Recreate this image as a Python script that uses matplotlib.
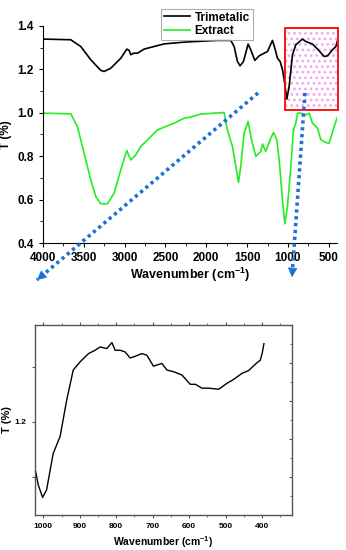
import numpy as np
import matplotlib
matplotlib.use('Agg')
import matplotlib.pyplot as plt
from matplotlib.patches import Rectangle
from matplotlib.ticker import MultipleLocator

plt.rcParams['font.family'] = ['Liberation Sans', 'DejaVu Sans']
plt.rcParams['font.weight'] = 'bold'
plt.rcParams['hatch.linewidth'] = 1.2
plt.rcParams['mathtext.fontset'] = 'custom'
plt.rcParams['mathtext.rm'] = 'Liberation Sans:bold'
plt.rcParams['mathtext.it'] = 'Liberation Sans:bold'
plt.rcParams['mathtext.bf'] = 'Liberation Sans:bold'
plt.rcParams['mathtext.default'] = 'bf'

# --- top panel: full FTIR spectra ---
tri_wn = [3986, 3659, 3537, 3414, 3292, 3251, 3169, 3047, 2973, 2945, 2924, 2892,
          2843, 2761, 2639, 2516, 2271, 1863, 1700, 1659, 1619, 1586, 1545, 1488,
          1456, 1406, 1353, 1251, 1190, 1161, 1129, 1096, 1067, 1047, 1014, 986,
          945, 904, 843, 822, 781, 700, 638, 557, 516, 455, 414, 393]
tri_t = [1.339, 1.336, 1.305, 1.244, 1.195, 1.190, 1.205, 1.251, 1.293, 1.287, 1.267, 1.274,
         1.274, 1.293, 1.305, 1.317, 1.325, 1.333, 1.333, 1.305, 1.236, 1.216, 1.236, 1.316,
         1.290, 1.241, 1.262, 1.282, 1.333, 1.297, 1.251, 1.236, 1.198, 1.152, 1.063, 1.121,
         1.267, 1.313, 1.333, 1.339, 1.328, 1.316, 1.293, 1.259, 1.262, 1.290, 1.305, 1.333]

ext_wn = [3986, 3659, 3578, 3496, 3414, 3353, 3292, 3210, 3128, 3047, 2973, 2924,
          2863, 2802, 2720, 2598, 2394, 2271, 2190, 2067, 1782, 1741, 1680, 1639,
          1606, 1578, 1537, 1488, 1447, 1394, 1333, 1312, 1272, 1218, 1178, 1137,
          1108, 1067, 1039, 1006, 965, 933, 904, 884, 843, 781, 741, 700, 638,
          598, 537, 496, 434, 393]
ext_t = [0.998, 0.995, 0.937, 0.814, 0.691, 0.615, 0.581, 0.581, 0.630, 0.737, 0.826, 0.783,
         0.806, 0.845, 0.875, 0.921, 0.952, 0.975, 0.980, 0.994, 1.001, 0.921, 0.845, 0.753,
         0.679, 0.753, 0.906, 0.960, 0.876, 0.799, 0.822, 0.856, 0.822, 0.876, 0.909, 0.876,
         0.783, 0.599, 0.489, 0.569, 0.753, 0.921, 0.952, 0.998, 0.998, 0.990, 0.998, 0.952, 0.929,
         0.876, 0.863, 0.860, 0.937, 0.983]

# --- bottom panel: zoom of trimetalic 1040-400 ---
zoom_wn = [1021, 1014, 1002, 991, 973, 954, 936, 918, 899, 876, 858, 844, 826, 812,
           803, 789, 776, 762, 748, 730, 716, 698, 675, 661, 643, 620, 597, 583,
           565, 547, 519, 496, 478, 455, 437, 418, 405, 400, 395]
zoom_t = [1.109, 1.085, 1.062, 1.076, 1.142, 1.173, 1.239, 1.294, 1.309, 1.324, 1.330, 1.336,
          1.333, 1.344, 1.330, 1.330, 1.327, 1.316, 1.319, 1.324, 1.321, 1.301, 1.306, 1.294,
          1.291, 1.285, 1.268, 1.268, 1.261, 1.261, 1.259, 1.270, 1.277, 1.288, 1.293, 1.305,
          1.312, 1.324, 1.342]

blue = '#1f6fd6'
green = '#22ee22'

fig = plt.figure(figsize=(3.46, 5.5), dpi=100)

ax = fig.add_axes([0.124, 0.558, 0.850, 0.395])
ax.plot(tri_wn, tri_t, color='black', lw=1.2, label='Trimetalic')
ax.plot(ext_wn, ext_t, color=green, lw=1.2, label='Extract')
ax.set_xlim(4000, 400)
ax.set_ylim(0.4, 1.4)
ax.xaxis.set_major_locator(MultipleLocator(500))
ax.xaxis.set_minor_locator(MultipleLocator(250))
ax.yaxis.set_major_locator(MultipleLocator(0.2))
ax.yaxis.set_minor_locator(MultipleLocator(0.1))
ax.spines['top'].set_visible(False)
ax.spines['right'].set_visible(False)
ax.tick_params(which='both', direction='out', labelsize=8.5, length=3)
ax.tick_params(which='minor', length=2)
ax.set_xlabel('Wavenumber (cm$^{-1}$)', fontsize=9, fontweight='bold', labelpad=1)
ax.set_ylabel('T (%)', fontsize=8.5, fontweight='bold', labelpad=4)
for lab in ax.get_xticklabels() + ax.get_yticklabels():
    lab.set_fontweight('bold')

# highlighted region
ax.add_patch(Rectangle((390, 1.013), 650, 0.377, facecolor='none',
                       edgecolor='#f4a6ee', lw=0, hatch='...', zorder=1))
ax.add_patch(Rectangle((390, 1.013), 650, 0.377, facecolor='none',
                       edgecolor='red', lw=1.3, zorder=3, clip_on=False))

# dotted arrows pointing to the zoom panel: dotted shaft + solid head
arrows = [((1367, 1.091), (4073, 0.23)), ((792, 1.091), (951, 0.243))]
for (x0, y0), (x1, y1) in arrows:
    ax.plot([x0, x1], [y0, y1], color=blue, lw=2.6, dashes=(0.9, 1.0),
            clip_on=False, zorder=4)
    ax.annotate('', xy=(x1, y1), xytext=(x0 + 0.97 * (x1 - x0), y0 + 0.97 * (y1 - y0)),
                arrowprops=dict(arrowstyle='-|>,head_length=0.6,head_width=0.3',
                                color=blue, lw=0.5, shrinkA=0, shrinkB=0),
                annotation_clip=False, zorder=4)

leg = fig.legend(loc='upper left', bbox_to_anchor=(0.448, 0.995),
                 handlelength=2.2, handletextpad=0.4, borderpad=0.25,
                 labelspacing=0.15, fancybox=False, edgecolor='#999999',
                 prop={'weight': 'bold', 'size': 8.5})
leg.get_frame().set_linewidth(0.8)

# bottom zoom panel
ax2 = fig.add_axes([0.101, 0.0636, 0.743, 0.3455])
ax2.plot(zoom_wn, zoom_t, color='black', lw=1.0)
ax2.set_xlim(1023, 318)
ax2.set_ylim(1.030, 1.376)
ax2.xaxis.set_major_locator(MultipleLocator(100))
ax2.xaxis.set_minor_locator(MultipleLocator(50))
ax2.set_yticks([1.1, 1.2, 1.3])
ax2.set_yticklabels(['', '1.2', ''])
for s in ax2.spines.values():
    s.set_color('#555555')
    s.set_linewidth(1.0)
ax2.tick_params(which='both', direction='out', labelsize=6, length=2.5,
                top=True, colors='#555555', labelcolor='black')
ax2.tick_params(which='minor', length=1.5)
ax2.set_xlabel('Wavenumber (cm$^{-1}$)', fontsize=7.5, fontweight='bold', labelpad=3)
ax2.set_ylabel('T (%)', fontsize=8, fontweight='bold', labelpad=2)
for lab in ax2.get_xticklabels() + ax2.get_yticklabels():
    lab.set_fontweight('bold')

ax3 = ax2.twinx()
ax3.set_ylim(0, 10)
ax3.yaxis.set_major_locator(MultipleLocator(2))
ax3.yaxis.set_minor_locator(MultipleLocator(1))
ax3.tick_params(which='both', direction='in', labelright=False, length=2.5,
                colors='#555555')
ax3.tick_params(which='minor', length=1.5)
for s in ax3.spines.values():
    s.set_visible(False)

fig.savefig('out.png', dpi=100)
